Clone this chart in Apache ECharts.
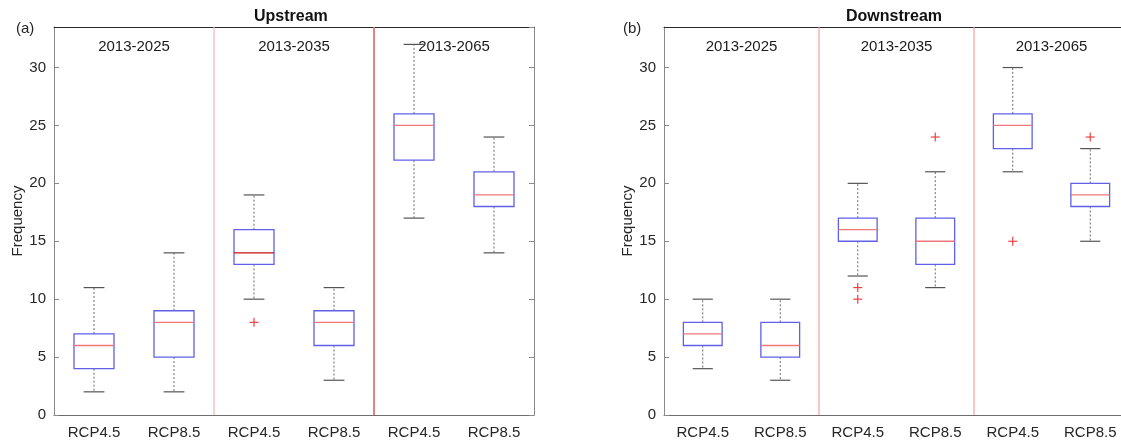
<!DOCTYPE html>
<html>
<head>
<meta charset="utf-8">
<script src="https://cdn.jsdelivr.net/npm/echarts@6/dist/echarts.min.js"></script>
<style>
  html, body { margin: 0; padding: 0; background: #fff; overflow: hidden; }
  /* the right-hand panel runs past the window edge, so the canvas is a little wider */
  #chart { width: 1132px; height: 440px; }
</style>
</head>
<body>
<div id="chart"></div>
<script>
// Category labels along the x axis and the period each pair of boxes belongs to
const categories = ['RCP4.5', 'RCP8.5', 'RCP4.5', 'RCP8.5', 'RCP4.5', 'RCP8.5'];
const periods = ['2013-2025', '2013-2035', '2013-2065'];
const panelTitles = ['Upstream', 'Downstream'];
const panelTags = ['(a)', '(b)'];

// Box statistics per category: [lower whisker, Q1, median, Q3, upper whisker]
const upstreamStats = [
  [2, 4, 6, 7, 11],
  [2, 5, 8, 9, 14],
  [10, 13, 14, 16, 19],
  [3, 6, 8, 9, 11],
  [17, 22, 25, 26, 32],
  [14, 18, 19, 21, 24]
];
const downstreamStats = [
  [4, 6, 7, 8, 10],
  [3, 5, 6, 8, 10],
  [12, 15, 16, 17, 20],
  [11, 13, 15, 17, 21],
  [21, 23, 25, 26, 30],
  [15, 18, 19, 20, 23]
];

// Outliers: [category index, value]
const upstreamOutliers = [[2, 8]];
const downstreamOutliers = [[2, 11], [2, 10], [3, 24], [4, 15], [5, 24]];

const Y_MAX = 33.5;
const FONT = '"Liberation Sans", Arial, Helvetica, sans-serif';
const TEXT_COLOR = '#262626';

const chart = echarts.init(document.getElementById('chart'), null, { renderer: 'canvas' });

function boxRenderer(darkMedianIndex) {
  return function (params, api) {
    const x = api.value(0);
    const band = api.size([1, 0])[0];
    const halfBox = band * 0.25;
    const halfCap = band * 0.13;
    const pMin = api.coord([x, api.value(1)]);
    const pQ1 = api.coord([x, api.value(2)]);
    const pMed = api.coord([x, api.value(3)]);
    const pQ3 = api.coord([x, api.value(4)]);
    const pMax = api.coord([x, api.value(5)]);
    const cx = pMin[0];
    const whisker = { stroke: '#6a6a6a', lineWidth: 1, lineDash: [2, 2] };
    const cap = { stroke: '#555', lineWidth: 1.2 };
    const medColor = params.dataIndex === darkMedianIndex ? '#c81010' : '#f07878';
    return {
      type: 'group',
      children: [
        { type: 'line', shape: { x1: cx, y1: pQ3[1], x2: cx, y2: pMax[1] }, style: whisker },
        { type: 'line', shape: { x1: cx, y1: pQ1[1], x2: cx, y2: pMin[1] }, style: whisker },
        { type: 'line', shape: { x1: cx - halfCap, y1: pMax[1], x2: cx + halfCap, y2: pMax[1] }, style: cap },
        { type: 'line', shape: { x1: cx - halfCap, y1: pMin[1], x2: cx + halfCap, y2: pMin[1] }, style: cap },
        {
          type: 'rect',
          shape: { x: cx - halfBox, y: pQ3[1], width: halfBox * 2, height: pQ1[1] - pQ3[1] },
          style: { fill: 'rgba(255,255,255,0)', stroke: '#6060e8', lineWidth: 1.3 }
        },
        { type: 'line', shape: { x1: cx - halfBox, y1: pMed[1], x2: cx + halfBox, y2: pMed[1] },
          style: { stroke: medColor, lineWidth: 1.3 } }
      ]
    };
  };
}

function outlierRenderer(params, api) {
  const p = api.coord([api.value(0), api.value(1)]);
  const s = 4.5;
  const st = { stroke: '#ee4040', lineWidth: 1.2 };
  return {
    type: 'group',
    children: [
      { type: 'line', shape: { x1: p[0] - s, y1: p[1], x2: p[0] + s, y2: p[1] }, style: st },
      { type: 'line', shape: { x1: p[0], y1: p[1] - s, x2: p[0], y2: p[1] + s }, style: st }
    ]
  };
}

// Vertical lines separating the periods; one style per boundary
function separatorRenderer(sepStyles) {
  return function (params, api) {
    const k = api.value(0);
    const a = api.coord([k, 0]);
    const b = api.coord([k + 1, Y_MAX]);
    const x = (a[0] + b[0]) / 2;
    const st = sepStyles[params.dataIndex];
    return {
      type: 'line',
      shape: { x1: x, y1: a[1], x2: x, y2: b[1] },
      style: { stroke: st.color, lineWidth: st.width }
    };
  };
}

function periodRenderer(params, api) {
  const k = api.value(0);
  const a = api.coord([k, Y_MAX]);
  const b = api.coord([k + 1, Y_MAX]);
  return {
    type: 'text',
    style: {
      text: periods[params.dataIndex],
      x: (a[0] + b[0]) / 2,
      y: a[1] + 20,
      align: 'center',
      verticalAlign: 'middle',
      font: '15px ' + FONT,
      fill: '#1a1a1a'
    },
    z2: 1
  };
}

const periodStarts = periods.map((p, i) => [i * 2]);
const boundaries = periods.slice(1).map((p, i) => [i * 2 + 1]);

function xAxes(gridIndex) {
  return [
    {
      type: 'category', gridIndex, position: 'bottom', data: categories,
      boundaryGap: true,
      axisLine: { onZero: false, lineStyle: { color: '#6e6e6e', width: 1 } },
      axisTick: { inside: true, length: 5, alignWithLabel: true, lineStyle: { color: '#7d7d7d' } },
      axisLabel: { color: TEXT_COLOR, fontSize: 15, fontFamily: FONT, margin: 10 }
    },
    {
      type: 'category', gridIndex, position: 'top', data: categories,
      boundaryGap: true,
      axisLine: { onZero: false, lineStyle: { color: '#2a2a2a', width: 1 } },
      axisTick: { inside: true, length: 5, alignWithLabel: true, lineStyle: { color: '#9a9a9a' } },
      axisLabel: { show: false }
    }
  ];
}

function yAxes(gridIndex) {
  return [
    {
      type: 'value', gridIndex, position: 'left', min: 0, max: Y_MAX, interval: 5,
      name: 'Frequency', nameLocation: 'middle', nameRotate: 90, nameGap: 28,
      nameTextStyle: { color: TEXT_COLOR, fontSize: 15, fontFamily: FONT },
      splitLine: { show: false },
      axisLine: { show: true, onZero: false, lineStyle: { color: '#8a8a8a', width: 1 } },
      axisTick: { show: true, inside: true, length: 5, lineStyle: { color: '#8a8a8a' } },
      axisLabel: { color: TEXT_COLOR, fontSize: 15, fontFamily: FONT, margin: 8, showMaxLabel: false }
    },
    {
      type: 'value', gridIndex, position: 'right', min: 0, max: Y_MAX, interval: 5,
      splitLine: { show: false },
      axisLine: { show: true, onZero: false, lineStyle: { color: '#8a8a8a', width: 1 } },
      axisTick: { show: true, inside: true, length: 5, lineStyle: { color: '#8a8a8a' } },
      axisLabel: { show: false }
    }
  ];
}

function panelSeries(xIdx, yIdx, stats, outliers, darkMedianIndex, sepStyles) {
  return [
    {
      type: 'custom', xAxisIndex: xIdx, yAxisIndex: yIdx,
      renderItem: separatorRenderer(sepStyles),
      data: boundaries, encode: { x: 0 }, silent: true, z: 1
    },
    {
      type: 'custom', xAxisIndex: xIdx, yAxisIndex: yIdx,
      renderItem: periodRenderer,
      data: periodStarts, encode: { x: 0 }, silent: true, z: 2
    },
    {
      type: 'custom', xAxisIndex: xIdx, yAxisIndex: yIdx,
      renderItem: boxRenderer(darkMedianIndex),
      data: stats.map((s, i) => [i].concat(s)),
      encode: { x: 0, y: [1, 2, 3, 4, 5] }, silent: true, z: 3
    },
    {
      type: 'custom', xAxisIndex: xIdx, yAxisIndex: yIdx,
      renderItem: outlierRenderer,
      data: outliers, encode: { x: 0, y: 1 }, silent: true, z: 4
    }
  ];
}

const option = {
  backgroundColor: '#ffffff',
  animation: false,
  textStyle: { fontFamily: FONT },
  grid: [
    { left: 54, top: 27, width: 480, height: 388, outerBoundsMode: 'none' },
    { left: 664, top: 27, width: 465, height: 388, outerBoundsMode: 'none' }
  ],
  xAxis: [...xAxes(0), ...xAxes(1)],
  yAxis: [...yAxes(0), ...yAxes(1)],
  series: [
    ...panelSeries(0, 0, upstreamStats, upstreamOutliers, 2,
      [{ color: '#f6b8b8', width: 1.2 }, { color: '#e07878', width: 1.8 }]),
    ...panelSeries(2, 2, downstreamStats, downstreamOutliers, -1,
      [{ color: '#f4a0a0', width: 1.2 }, { color: '#f4a0a0', width: 1.2 }])
  ],
  graphic: [
    { type: 'text', left: 294 - 40, top: 9, style: { text: panelTitles[0], font: 'bold 16px ' + FONT, fill: '#111', width: 80, align: 'center' } },
    { type: 'text', left: 896 - 50, top: 9, style: { text: panelTitles[1], font: 'bold 16px ' + FONT, fill: '#111', width: 100, align: 'center' } },
    { type: 'text', left: 16, top: 21, style: { text: panelTags[0], font: '15px ' + FONT, fill: TEXT_COLOR } },
    { type: 'text', left: 623, top: 21, style: { text: panelTags[1], font: '15px ' + FONT, fill: TEXT_COLOR } }
  ]
};

chart.setOption(option);
</script>
</body>
</html>
